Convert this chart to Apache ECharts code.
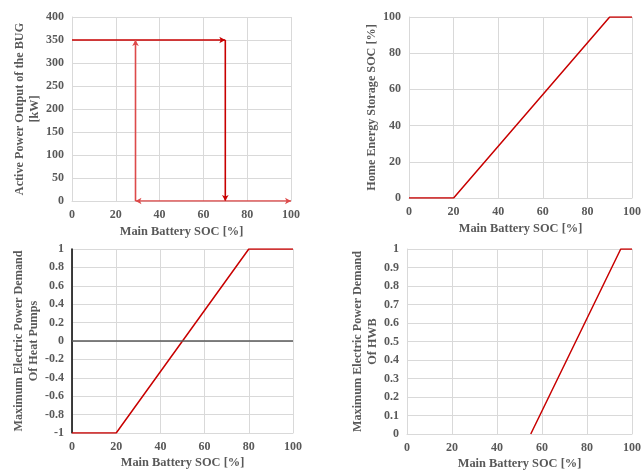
<!DOCTYPE html>
<html>
<head>
<meta charset="utf-8">
<script src="https://cdn.jsdelivr.net/npm/echarts@6/dist/echarts.min.js"></script>
<style>
  html, body { margin: 0; padding: 0; background: #fff; }
  #chart { width: 644px; height: 471px; }
</style>
</head>
<body>
<div id="chart"></div>
<script>
// x ticks shared by all four panels (Main Battery SOC [%])
var socTicks = [0, 20, 40, 60, 80, 100]

// panel 1: BUG hysteresis, each segment drawn with an arrow at its end
var bugTicks = [0, 50, 100, 150, 200, 250, 300, 350, 400]
var bugTopRun = [[0, 350], [70, 350]]
var bugDropAt70 = [[70, 350], [70, 0]]
var bugBottomRun = [[29, 0], [100, 0]]
var bugRiseAt29 = [[29, 0], [29, 350]]

// panel 2: home energy storage SOC
var hesTicks = [0, 20, 40, 60, 80, 100]
var hesSoc = [[0, 0], [20, 0], [90, 100], [100, 100]]

// panel 3: heat pumps
var hpTicks = [-1, -0.8, -0.6, -0.4, -0.2, 0, 0.2, 0.4, 0.6, 0.8, 1]
var hpDemand = [[0, -1], [20, -1], [80, 1], [100, 1]]

// panel 4: HWB
var hwbTicks = [0, 0.1, 0.2, 0.3, 0.4, 0.5, 0.6, 0.7, 0.8, 0.9, 1]
var hwbDemand = [[55, 0], [95, 1], [100, 1]]

var red = '#c80000'
var redLight = '#dd4a4a'
var grey = '#595959'
var gridGrey = '#d9d9d9'
var font = '"Liberation Serif", "Times New Roman", serif'

function xAxisFor(idx, gap) {
  return {
    type: 'value', gridIndex: idx,
    min: socTicks[0], max: socTicks[socTicks.length - 1],
    interval: socTicks[1] - socTicks[0],
    name: 'Main Battery SOC [%]', nameLocation: 'middle', nameGap: gap,
    nameTextStyle: { fontFamily: font, fontWeight: 'bold', fontSize: 12.4, color: grey },
    axisLine: { onZero: false, lineStyle: { color: gridGrey } },
    axisTick: { show: false },
    axisLabel: { fontFamily: font, fontWeight: 'bold', fontSize: 12, color: grey, margin: 8 },
    splitLine: { lineStyle: { color: gridGrey } }
  }
}

function yAxisFor(idx, ticks, name, gap, axisColor) {
  return {
    type: 'value', gridIndex: idx,
    min: ticks[0], max: ticks[ticks.length - 1],
    interval: Math.round((ticks[1] - ticks[0]) * 100) / 100,
    name: name, nameLocation: 'middle', nameGap: gap,
    nameTextStyle: { fontFamily: font, fontWeight: 'bold', fontSize: 12.2, color: grey, lineHeight: 15 },
    axisLine: { show: true, lineStyle: { color: axisColor || gridGrey, width: axisColor ? 1.5 : 1 } },
    axisTick: { show: false },
    axisLabel: {
      fontFamily: font, fontWeight: 'bold', fontSize: 12, color: grey, margin: 8,
      formatter: function (v) { return String(Math.round(v * 100) / 100) }
    },
    splitLine: { lineStyle: { color: gridGrey } }
  }
}

// one straight segment, arrow head at the last point
function arrowSeg(idx, data, rot, color, startRot) {
  return {
    type: 'line', xAxisIndex: idx, yAxisIndex: idx, data: data,
    lineStyle: { color: color, width: 1.6 },
    itemStyle: { color: color },
    symbol: function (v, p) { return (p.dataIndex === data.length - 1 || startRot != null) ? 'arrow' : 'none' },
    symbolSize: [5, 6],
    symbolRotate: function (v, p) { return p.dataIndex === data.length - 1 ? rot : startRot },
    showAllSymbol: true, silent: true, animation: false, z: 3
  }
}

function plainLine(idx, data) {
  return {
    type: 'line', xAxisIndex: idx, yAxisIndex: idx, data: data,
    lineStyle: { color: red, width: 1.5 }, symbol: 'none', silent: true, animation: false
  }
}

var chart = echarts.init(document.getElementById('chart'))
chart.setOption({
  backgroundColor: '#fff',
  animation: false,
  grid: [
    { left: 72, right: 353, top: 17, bottom: 270 },
    { left: 409, right: 12, top: 17, bottom: 273 },
    { left: 72, right: 351, top: 249, bottom: 38 },
    { left: 407, right: 10, top: 249, bottom: 36 }
  ],
  xAxis: [xAxisFor(0, 25), xAxisFor(1, 25), xAxisFor(2, 24), xAxisFor(3, 24)],
  yAxis: [
    yAxisFor(0, bugTicks, 'Active Power Output of the BUG\n[kW]', 28),
    yAxisFor(1, hesTicks, 'Home Energy Storage SOC [%]', 29.5),
    yAxisFor(2, hpTicks, 'Maximum Electric Power Demand\nOf Heat Pumps', 29.5, '#000'),
    yAxisFor(3, hwbTicks, 'Maximum Electric Power Demand\nOf HWB', 27)
  ],
  series: [
    arrowSeg(0, bugTopRun, -90, red),
    arrowSeg(0, bugDropAt70, 180, red),
    arrowSeg(0, bugBottomRun, -90, redLight, 90),
    arrowSeg(0, bugRiseAt29, 0, redLight),
    plainLine(1, hesSoc),
    {
      type: 'line', xAxisIndex: 2, yAxisIndex: 2, data: hpDemand,
      lineStyle: { color: red, width: 1.5 }, symbol: 'none', silent: true, animation: false,
      markLine: {
        silent: true, symbol: ['none', 'none'], label: { show: false },
        lineStyle: { color: grey, width: 1.5, type: 'solid' },
        data: [{ yAxis: 0 }]
      }
    },
    plainLine(3, hwbDemand)
  ]
})
</script>
</body>
</html>
